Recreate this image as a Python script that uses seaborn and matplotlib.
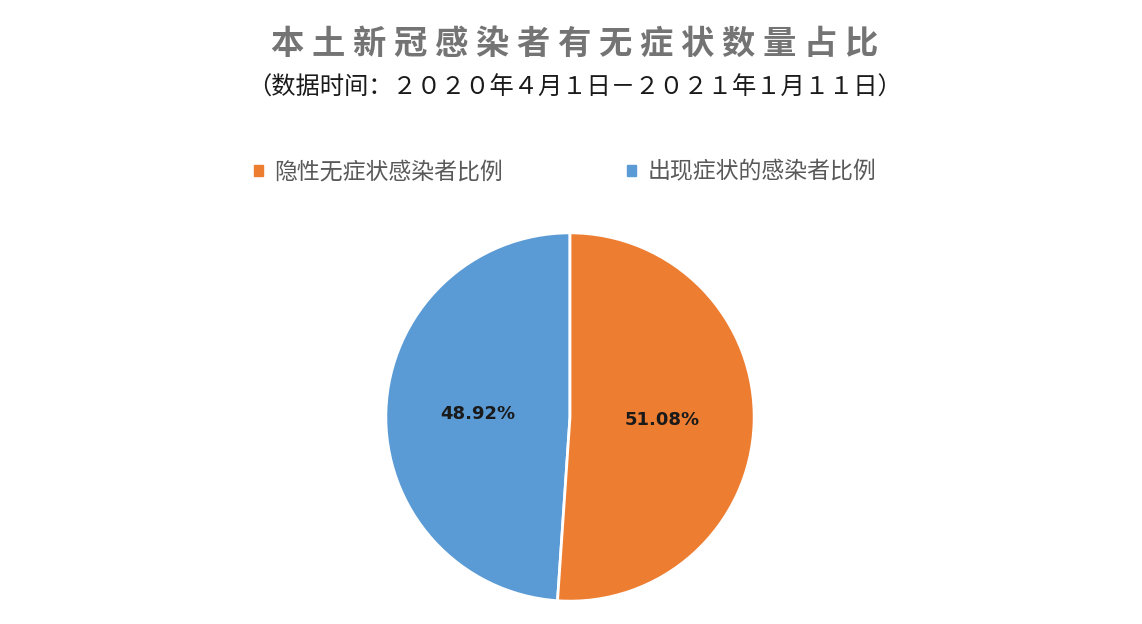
import matplotlib.pyplot as plt
import seaborn as sns
from matplotlib.patches import Patch

sns.set_theme(style="white")
plt.rcParams['font.family'] = ['Noto Sans CJK SC', 'DejaVu Sans']

# data
labels = ['出现症状的感染者比例', '隐性无症状感染者比例']
shares = [48.92, 51.08]
colors = ['#5B9BD5', '#ED7D31']

title = '本土新冠感染者有无症状数量占比'
subtitle = '（数据时间：２０２０年４月１日－２０２１年１月１１日）'

fig = plt.figure(figsize=(11.42, 6.24), dpi=100)
ax = fig.add_axes([(570 - 186) / 1142, (624 - 417 - 186) / 624, 372 / 1142, 372 / 624])

wedges, texts, autotexts = ax.pie(
    shares, colors=colors, startangle=90, counterclock=True,
    autopct='%.2f%%', pctdistance=0.5,
    wedgeprops=dict(edgecolor='white', linewidth=2),
    textprops=dict(fontsize=13, fontweight='bold', color='#1a1a1a', family=['DejaVu Sans']))
ax.set_aspect('equal')
ax.set_xlim(-1.01, 1.01)
ax.set_ylim(-1.01, 1.01)

# title (spaced like the original)
fig.text(575 / 1142, 1 - 44 / 624, ' '.join(title), ha='center', va='center',
         fontsize=24, fontweight='bold', color='#747474')
fig.text(575 / 1142, 1 - 88 / 624, subtitle, ha='center', va='center',
         fontsize=17.5, color='#1a1a1a')

# legend: orange entry on the left, blue on the right
handles = [Patch(color=colors[1]), Patch(color=colors[0])]
leg = fig.legend(handles, [labels[1], labels[0]], loc='center', ncol=2,
                 bbox_to_anchor=(565 / 1142, 1 - 172 / 624), frameon=False,
                 fontsize=16.5, handlelength=0.4, handleheight=0.4,
                 handletextpad=0.5, columnspacing=5.4)
for t in leg.get_texts():
    t.set_color('#595959')

fig.savefig('out.png', dpi=100, facecolor='white')
